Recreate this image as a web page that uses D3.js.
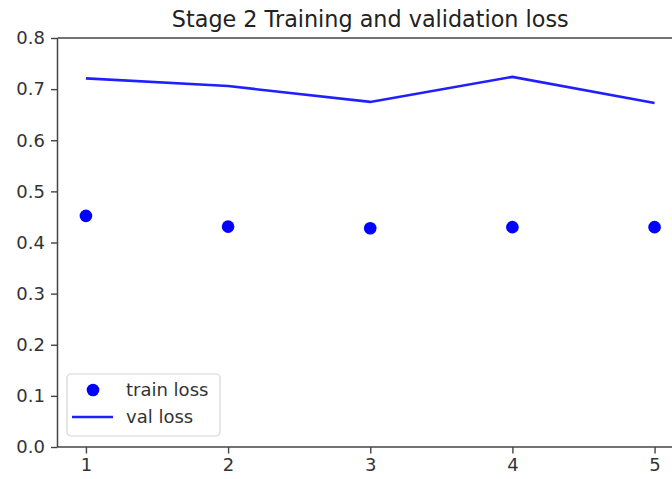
<!DOCTYPE html>
<html><head><meta charset="utf-8">
<script src="https://cdn.jsdelivr.net/npm/d3@7"></script>
<style>body{margin:0;background:#fff}svg{display:block}</style>
</head><body>
<svg id="c" width="672" height="479"></svg>
<script>
const epochs = [1, 2, 3, 4, 5];
const trainLoss = [0.452, 0.431, 0.428, 0.430, 0.430];
const valLoss = [0.721, 0.706, 0.675, 0.724, 0.673];
const yTicks = [0.0, 0.1, 0.2, 0.3, 0.4, 0.5, 0.6, 0.7, 0.8];
const xTicks = [1, 2, 3, 4, 5];
const title = "Stage 2 Training and validation loss";
const labels = ["train loss", "val loss"];

const svg = d3.select("#c");
const font = "DejaVu Sans, sans-serif";
const L = 57.5, R = 683, T = 38, B = 447;
const x = d3.scaleLinear().domain([0.8, 5.2]).range([L, R]);
const y = d3.scaleLinear().domain([0, 0.8]).range([B, T]);

// axes
const yAxis = d3.axisLeft(y).tickValues(yTicks).tickFormat(d3.format(".1f")).tickSize(6.5).tickPadding(6);
const xAxis = d3.axisBottom(x).tickValues(xTicks).tickFormat(d3.format("d")).tickSize(6.5).tickPadding(5);
const gy = svg.append("g").attr("transform", `translate(${L},0)`).call(yAxis);
const gx = svg.append("g").attr("transform", `translate(0,${B})`).call(xAxis);
[gx, gy].forEach(g => {
  g.select(".domain").remove();
  g.selectAll(".tick line").attr("stroke", "#444").attr("stroke-width", 1.4);
  g.selectAll(".tick text").attr("fill", "#333").style("font-family", font).style("font-size", "18px");
});
// spines
svg.append("line").attr("x1", L).attr("x2", L).attr("y1", T).attr("y2", B).attr("stroke", "#444").attr("stroke-width", 1.5);
svg.append("line").attr("x1", L).attr("x2", R).attr("y1", B).attr("y2", B).attr("stroke", "#444").attr("stroke-width", 1.5);
svg.append("line").attr("x1", L).attr("x2", R).attr("y1", T).attr("y2", T).attr("stroke", "#444").attr("stroke-width", 1.5);

// title
svg.append("text").attr("x", (L + R) / 2).attr("y", 27).attr("text-anchor", "middle")
  .style("font-family", font).style("font-size", "22.3px").attr("fill", "#222").text(title);

// val line
const line = d3.line().x((d, i) => x(epochs[i])).y(d => y(d));
svg.append("path").datum(valLoss).attr("d", line).attr("fill", "none")
  .attr("stroke", "#2020ff").attr("stroke-width", 2.6);

// train dots
svg.selectAll("circle.tr").data(trainLoss).enter().append("circle").attr("class", "tr")
  .attr("cx", (d, i) => x(epochs[i])).attr("cy", d => y(d)).attr("r", 6.3).attr("fill", "#0000ff");

// legend
const lg = svg.append("g");
lg.append("rect").attr("x", 67).attr("y", 374).attr("width", 153).attr("height", 62).attr("rx", 4)
  .attr("fill", "#fff").attr("fill-opacity", 0.8).attr("stroke", "#d5d5d5").attr("stroke-width", 1.2);
lg.append("circle").attr("cx", 93).attr("cy", 390).attr("r", 6.3).attr("fill", "#0000ff");
lg.append("line").attr("x1", 72).attr("x2", 113).attr("y1", 417).attr("y2", 417).attr("stroke", "#2020ff").attr("stroke-width", 2.6);
labels.forEach((t, i) => {
  lg.append("text").attr("x", 126).attr("y", 390 + i * 27).attr("dy", "0.35em")
    .style("font-family", font).style("font-size", "18px").attr("fill", "#333").text(t);
});
</script>
</body></html>
